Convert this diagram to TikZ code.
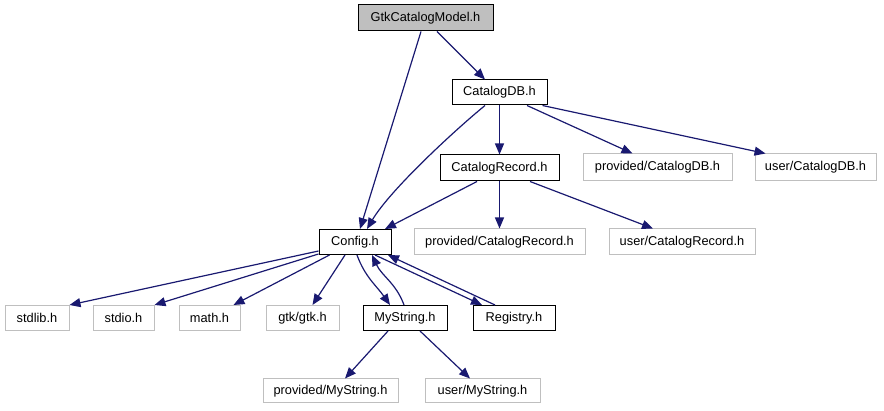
\documentclass[tikz,border=0pt]{standalone}
\usepackage{fontspec}
\setmainfont{Liberation Sans}
\usepackage{tikz}
\usetikzlibrary{arrows.meta}
\definecolor{edgeblue}{HTML}{191970}
\definecolor{boxgray}{HTML}{BFBFBF}
\tikzset{
  filebox/.style={draw=black,fill=white,line width=1pt,inner sep=0pt,
    minimum height=25pt,font=\fontsize{12.8}{15}\selectfont},
  extbox/.style={filebox,draw=boxgray},
  rootbox/.style={filebox,fill=boxgray},
  incarrow/.style={-{Triangle[length=11pt,width=9pt]},draw=edgeblue,line width=1.2pt}
}

\begin{document}
\begin{tikzpicture}[x=1pt,y=-1pt]
  \useasboundingbox (0,0) rectangle (884,411);
  % top rows
  \node[rootbox,minimum width=135pt,minimum height=26pt] (gtkmodel) at (425.5,18) {GtkCatalogModel.h};
  \node[filebox,minimum width=95pt] (catalogdb) at (499.5,92.5) {CatalogDB.h};
  \node[filebox,minimum width=119pt,minimum height=26pt] (catalogrecord) at (499.5,168) {CatalogRecord.h};
  \node[extbox,minimum width=149pt,minimum height=27pt] (provdb) at (657.5,167.5) {provided/CatalogDB.h};
  \node[extbox,minimum width=121pt,minimum height=27pt] (userdb) at (815.5,167.5) {user/CatalogDB.h};
  \node[filebox,minimum width=72pt,minimum height=25pt] (config) at (355,242) {Config.h};
  \node[extbox,minimum width=171pt,minimum height=26pt] (provrecord) at (499.5,242) {provided/CatalogRecord.h};
  \node[extbox,minimum width=146pt,minimum height=26pt] (userrecord) at (682,242) {user/CatalogRecord.h};
  % headers used by Config.h
  \node[extbox,minimum width=64pt] (stdlib) at (37,318) {stdlib.h};
  \node[extbox,minimum width=61pt] (stdio) at (123.5,318) {stdio.h};
  \node[extbox,minimum width=61pt] (math) at (209.5,318) {math.h};
  \node[extbox,minimum width=73pt] (gtk) at (302.5,318) {gtk/gtk.h};
  \node[filebox,minimum width=84pt] (mystring) at (405,318) {MyString.h};
  \node[filebox,minimum width=82pt] (registry) at (514,318) {Registry.h};
  \node[extbox,minimum width=135pt,minimum height=24pt] (provmystring) at (330.5,391) {provided/MyString.h};
  \node[extbox,minimum width=115pt,minimum height=24pt] (usermystring) at (482.5,391) {user/MyString.h};

  \draw[incarrow] ([xshift=11.5pt]gtkmodel.south) -- ([xshift=-14.5pt]catalogdb.north);
  \draw[incarrow] ([xshift=-4.5pt]gtkmodel.south) -- ([xshift=5pt]config.north);
  \draw[incarrow] (catalogdb) -- (catalogrecord);
  \draw[incarrow] ([xshift=-14.5pt]catalogdb.south) .. controls (455,130) and (390,190) .. ([xshift=12pt]config.north);
  \draw[incarrow] ([xshift=27.5pt]catalogdb.south) -- ([xshift=-25pt]provdb.north);
  \draw[incarrow] ([xshift=-5pt]catalogdb.south east) -- ([xshift=-50pt]userdb.north);
  \draw[incarrow] ([xshift=-22.5pt]catalogrecord.south) -- ([xshift=30pt]config.north);
  \draw[incarrow] (catalogrecord) -- (provrecord);
  \draw[incarrow] ([xshift=30.5pt]catalogrecord.south) -- ([xshift=-29pt]userrecord.north);
  \draw[incarrow] ([yshift=4pt]config.south west) -- (stdlib.north east);
  \draw[incarrow] ([yshift=1pt]config.south west) -- (stdio.north east);
  \draw[incarrow] ([xshift=11pt]config.south west) -- ([xshift=-7pt]math.north east);
  \draw[incarrow] ([xshift=-10pt]config.south) -- ([xshift=10pt]gtk.north);
  \draw[incarrow] ([xshift=2pt]config.south) to[out=-70,in=125] ([xshift=-15pt]mystring.north);
  \draw[incarrow] ([xshift=-1pt]mystring.north) to[out=110,in=-65] ([xshift=17pt]config.south);
  \draw[incarrow] ([xshift=20pt]config.south) -- ([xshift=-32pt]registry.north);
  \draw[incarrow] ([xshift=-19pt]registry.north) -- ([xshift=33pt]config.south);
  \draw[incarrow] ([xshift=-17pt]mystring.south) -- ([xshift=14.5pt]provmystring.north);
  \draw[incarrow] ([xshift=15pt]mystring.south) -- ([xshift=-12.5pt]usermystring.north);
\end{tikzpicture}
\end{document}
